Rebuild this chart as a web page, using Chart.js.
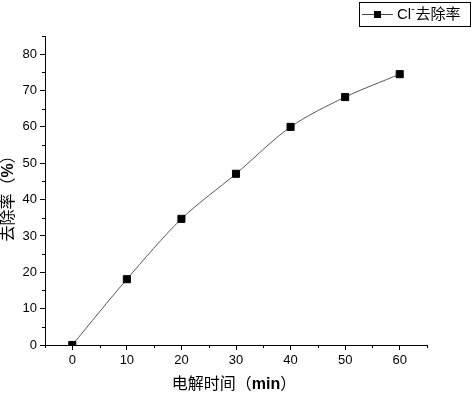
<!DOCTYPE html>
<html lang="zh">
<head>
<meta charset="utf-8">
<style>
  html, body { margin: 0; padding: 0; background: #fff; }
  #wrap { width: 472px; height: 393px; }
</style>
</head>
<body>
<div id="wrap"><canvas id="myChart" width="472" height="393"></canvas></div>
<script src="https://cdn.jsdelivr.net/npm/chart.js"></script>
<script>
// data
const times = [0, 10, 20, 30, 40, 50, 60];
const removal = [0, 18.1, 34.7, 47.1, 60.0, 68.2, 74.5];
const xTicks = [0, 10, 20, 30, 40, 50, 60];
const yTicks = [0, 10, 20, 30, 40, 50, 60, 70, 80];
const xMinor = [-5, 5, 15, 25, 35, 45, 55, 65];
const yMinor = [5, 15, 25, 35, 45, 55, 65, 75, 85];
const seriesLabel = ['Cl', '-', '去除率'];
const xTitle = ['电解时间', '（', 'min', '）'];
const yTitle = ['去除率', '（', '%', '）'];

const fontFam = "'Liberation Sans', 'Noto Sans CJK SC', Arial, sans-serif";

// draw minor ticks, axis titles and the boxed legend
const extras = {
  id: 'extras',
  afterDraw(chart) {
    const ctx = chart.ctx;
    const xs = chart.scales.x, ys = chart.scales.y;
    const area = chart.chartArea;
    ctx.save();
    ctx.strokeStyle = '#000';
    ctx.lineWidth = 1;
    ctx.beginPath();
    xMinor.forEach(v => {
      const px = Math.round(xs.getPixelForValue(v)) + 0.5;
      ctx.moveTo(px, area.bottom);
      ctx.lineTo(px, area.bottom + 3);
    });
    yMinor.forEach(v => {
      const py = Math.round(ys.getPixelForValue(v)) + 0.5;
      ctx.moveTo(area.left, py);
      ctx.lineTo(area.left - 3, py);
    });
    ctx.stroke();

    // axis titles, "min" and "%" in bold
    const parts = (list, boldIdx) => list.map((t, i) => ({ t, f: (i === boldIdx ? 'bold ' : '') + '16px ' + fontFam }));
    const drawRun = (runs, cx, cy) => {
      let w = 0;
      runs.forEach(r => { ctx.font = r.f; w += ctx.measureText(r.t).width; });
      let x = cx - w / 2;
      ctx.textBaseline = 'middle';
      ctx.textAlign = 'left';
      runs.forEach(r => { ctx.font = r.f; ctx.fillText(r.t, x, cy); x += ctx.measureText(r.t).width; });
    };
    ctx.fillStyle = '#000';
    drawRun(parts(xTitle, 2), (area.left + area.right) / 2 - 2, 385);
    ctx.save();
    ctx.translate(9, (area.top + area.bottom) / 2 + 4);
    ctx.rotate(-Math.PI / 2);
    drawRun(parts(yTitle, 2), 0, 0);
    ctx.restore();

    // legend box
    ctx.strokeStyle = '#000';
    ctx.strokeRect(359.5, 2.5, 111, 24);
    ctx.strokeStyle = '#444';
    ctx.beginPath();
    ctx.moveTo(362, 14.5);
    ctx.lineTo(393, 14.5);
    ctx.stroke();
    ctx.fillStyle = '#000';
    ctx.fillRect(374, 11, 7, 7);
    ctx.textBaseline = 'middle';
    ctx.font = '15px ' + fontFam;
    let lx = 397;
    ctx.fillText(seriesLabel[0], lx, 15);
    lx += ctx.measureText(seriesLabel[0]).width;
    ctx.font = '10px ' + fontFam;
    ctx.fillText(seriesLabel[1], lx, 9);
    lx += ctx.measureText(seriesLabel[1]).width + 1;
    ctx.font = '15px ' + fontFam;
    ctx.fillText(seriesLabel[2], lx, 15);
    ctx.restore();
  }
};

const config = {
  type: 'line',
  data: {
    datasets: [{
      label: seriesLabel.join(''),
      data: times.map((t, i) => ({ x: t, y: removal[i] })),
      borderColor: '#555',
      borderWidth: 1,
      tension: 0.3,
      pointStyle: 'rect',
      pointRadius: 5,
      pointBackgroundColor: '#000',
      pointBorderColor: '#000',
      pointBorderWidth: 1
    }]
  },
  options: {
    responsive: false,
    animation: false,
    layout: { padding: { top: 36, right: 45, left: 0, bottom: 0 } },
    plugins: { legend: { display: false }, tooltip: { enabled: false } },
    scales: {
      x: {
        type: 'linear',
        min: -5,
        max: 65,
        afterBuildTicks: s => { s.ticks = xTicks.map(v => ({ value: v })); },
        afterFit: s => { s.height = 48; },
        grid: { drawOnChartArea: false, drawTicks: true, tickLength: 5, tickColor: '#000' },
        border: { color: '#000', width: 1 },
        ticks: { color: '#000', font: { family: fontFam, size: 13 }, padding: 3, maxRotation: 0 }
      },
      y: {
        min: 0,
        max: 85,
        afterBuildTicks: s => { s.ticks = yTicks.map(v => ({ value: v })); },
        afterFit: s => { s.width = 45; },
        grid: { drawOnChartArea: false, drawTicks: true, tickLength: 5, tickColor: '#000' },
        border: { color: '#000', width: 1 },
        ticks: { color: '#000', font: { family: fontFam, size: 13 }, padding: 3 }
      }
    }
  },
  plugins: [extras]
};

const myChart = new Chart(document.getElementById('myChart'), config);
</script>
</body>
</html>
